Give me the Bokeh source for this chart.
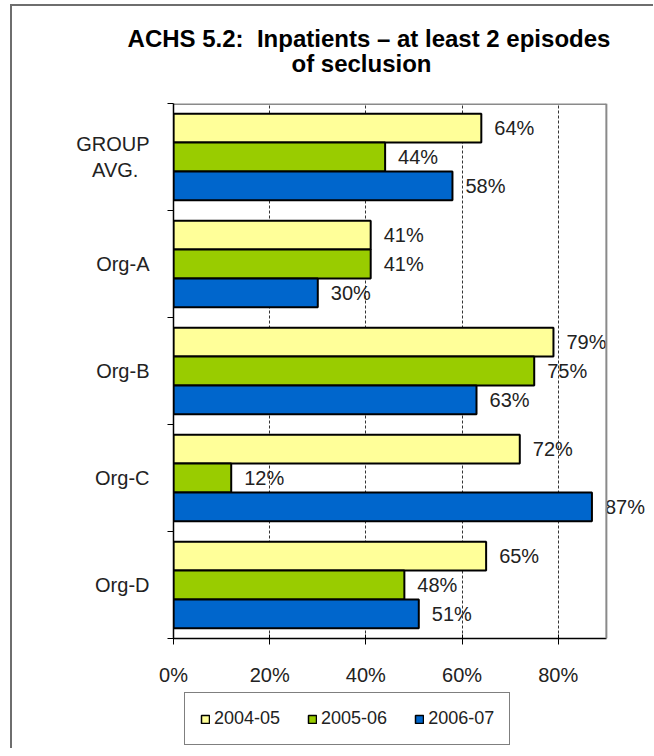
from bokeh.plotting import figure
from bokeh.models import (Range1d, FixedTicker, PrintfTickFormatter, Legend, LegendItem, Span, Div)
from bokeh.layouts import column
from bokeh.core.properties import value
from bokeh.embed import file_html
from bokeh.resources import INLINE
import numpy as np

# ---- data ----
categories = ["GROUP AVG.", "Org-A", "Org-B", "Org-C", "Org-D"]
cat_labels = ["GROUP\nAVG.\u00a0\u00a0", "Org-A", "Org-B", "Org-C", "Org-D"]
s2004_05 = [64, 41, 79, 72, 65]
s2005_06 = [44, 41, 75, 12, 48]
s2006_07 = [58, 30, 63, 87, 51]
series_names = ["2004-05", "2005-06", "2006-07"]
x_ticks = [0, 20, 40, 60, 80]
title_lines = ["ACHS 5.2:  Inpatients \u2013 at least 2 episodes", "of seclusion"]

colors = ["#FFFF99", "#99CC00", "#0066CC"]
FONT = "Liberation Sans"
W = 641
XMAX = 90          # right edge of the plot area (gray border)
XVIEW = 99.8       # visible range, so that labels past the border are not clipped

# ---- title (HTML text) ----
tstyle = ("font-family:'Liberation Sans', Arial, sans-serif; font-weight:bold; font-size:24px; "
          "line-height:25px; color:#000; white-space:nowrap; text-align:center;")
title_html = (f'<div style="padding-top:20px; margin-left:115px; width:484px; {tstyle}">'
              f'{title_lines[0].replace("  ", "&nbsp; ")}</div>'
              f'<div style="margin-left:269px; width:161px; {tstyle}">{title_lines[1]}</div>')
tdiv = Div(text=title_html, width=W, height=95, margin=0)

# ---- main chart ----
n = len(categories)
centers = np.array([n - 0.5 - i for i in range(n)])  # top-to-bottom

p = figure(width=W, height=587, output_backend="svg", toolbar_location=None,
           x_range=Range1d(0, XVIEW), y_range=Range1d(0, n), title=None,
           min_border_left=161, min_border_right=0, min_border_top=2, min_border_bottom=49)
p.background_fill_color = "white"
p.border_fill_color = "white"
p.outline_line_color = None

xa = p.xaxis[0]
xa.ticker = FixedTicker(ticks=x_ticks)
xa.formatter = PrintfTickFormatter(format="%d%%")
xa.bounds = (0, XMAX)
xa.axis_line_color = "black"
xa.axis_line_width = 1.5
xa.major_tick_line_color = "black"
xa.major_tick_in = 4
xa.major_tick_out = 6
xa.minor_tick_line_color = None
xa.major_label_text_font = FONT
xa.major_label_text_font_size = "20px"
xa.major_label_text_color = "#222222"
xa.major_label_standoff = 19

ya = p.yaxis[0]
ya.ticker = FixedTicker(ticks=list(centers), minor_ticks=list(range(n + 1)))
ya.major_label_overrides = {float(c): lab for c, lab in zip(centers, cat_labels)}
ya.axis_line_color = "black"
ya.axis_line_width = 1.5
ya.major_tick_line_color = None
ya.major_tick_out = 6
ya.minor_tick_line_color = "black"
ya.minor_tick_out = 6
ya.minor_tick_in = 0
ya.major_label_text_font = FONT
ya.major_label_text_font_size = "20px"
ya.major_label_text_color = "#222222"
ya.major_label_standoff = 18

p.xgrid.ticker = FixedTicker(ticks=x_ticks)
p.xgrid.grid_line_color = "#333333"
p.xgrid.grid_line_dash = "3 2"
p.xgrid.grid_line_width = 1
p.ygrid.grid_line_color = None

# plot-area border (top and right), gray as in the original
p.add_layout(Span(location=XMAX, dimension="height", line_color="#8a8a8a", line_width=2))
p.segment(x0=[0], x1=[XMAX], y0=[n], y1=[n], line_color="#8a8a8a", line_width=3)

bar_h = 0.27
offsets = [bar_h, 0.0, -bar_h]
for vals, off, col in zip([s2004_05, s2005_06, s2006_07], offsets, colors):
    ys = centers + off
    p.hbar(y=ys, right=vals, left=0, height=bar_h, fill_color=col,
           line_color="black", line_width=2)
    p.text(x=vals, y=ys, text=[f"{v}%" for v in vals], x_offset=13,
           text_baseline="middle", text_align="left", text_font=value(FONT),
           text_font_size="20px", text_color="#222222")

# ---- legend strip ----
pl = figure(width=W, height=60, output_backend="svg", toolbar_location=None,
            x_range=Range1d(0, 1), y_range=Range1d(0, 1),
            x_axis_type=None, y_axis_type=None, min_border=0, title=None)
pl.outline_line_color = None
pl.grid.grid_line_color = None
# legend proxies: zero-size bars outside the visible strip, only used for the legend swatches
proxies = [pl.hbar(y=[-1], left=[0], right=[0], height=0, fill_color=c,
                   line_color="black", line_width=1.5)
           for c in colors]
legend = Legend(items=[LegendItem(label=nm, renderers=[r]) for nm, r in zip(series_names, proxies)],
                orientation="horizontal", location=(11, 3),
                glyph_width=10, glyph_height=10, label_standoff=4, spacing=27,
                padding=15, margin=0,
                label_text_font=FONT, label_text_font_size="18px", label_text_color="#222222",
                border_line_color="black", border_line_width=1.5,
                background_fill_color="white", background_fill_alpha=1.0)
pl.add_layout(legend, "center")

layout = column(tdiv, p, pl, spacing=0,
                styles={"margin-left": "10px", "margin-top": "4px",
                        "border-left": "2px solid #6e6e6e", "border-top": "2px solid #6e6e6e"})

open("out.html", "w").write(file_html(layout, INLINE))
